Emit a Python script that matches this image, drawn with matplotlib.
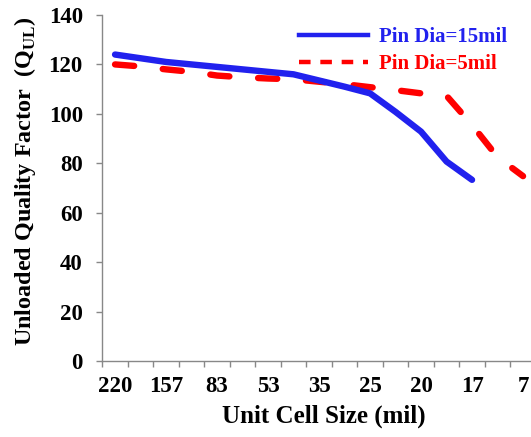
import matplotlib
matplotlib.use("Agg")
import matplotlib.pyplot as plt
from matplotlib.lines import Line2D

plt.rcParams['font.family'] = ['Liberation Serif', 'DejaVu Serif']
plt.rcParams['font.weight'] = 'bold'
plt.rcParams['mathtext.fontset'] = 'custom'
plt.rcParams['mathtext.bf'] = 'Liberation Serif:bold'
plt.rcParams['mathtext.rm'] = 'Liberation Serif:bold'

tick_labels = ["220", "157", "83", "53", "35", "25", "20", "17", "7"]
categories = list(range(17))
q_pin15 = [124, 122.5, 121, 120, 119, 118, 117, 116, 113.5, 111, 108.3, 100.8, 92.8, 80.7, 73.3]
q_pin5 = [120, 119.2, 118, 117, 115.5, 114.8, 114.3, 114, 113, 112, 110.8, 109.6, 108.3, 107.3, 95.5, 82.5, 74.8]

W, H = 531, 437
fig = plt.figure(figsize=(W / 100, H / 100), dpi=100)
left, right = 102.3 / W, 535.8 / W
bottom, top = (H - 361) / H, (H - 15) / H
ax = fig.add_axes([left, bottom, right - left, top - bottom])

blue = '#2121EE'
red = '#FF0000'
ax.plot(categories[:len(q_pin15)], q_pin15, color=blue, lw=4.6, solid_capstyle='round', solid_joinstyle='round', zorder=3)
ax.plot(categories[:len(q_pin5)], q_pin5, color=red, lw=4.6, dashes=(3.0, 4.5), dash_capstyle='round', zorder=2)

ax.set_xlim(-0.5, 16.5)
ax.set_ylim(0, 140)
ax.set_xticks([i - 0.5 for i in range(18)])
ax.set_xticklabels([])
ax.set_xticks(categories[::2], minor=True)
ax.set_xticklabels(tick_labels, minor=True, fontsize=16.5, fontweight='bold')
ax.tick_params(axis='x', which='minor', length=0, pad=11)
ax.tick_params(axis='x', which='major', length=4, color='#888888', width=1, direction='out')
ax.set_yticks(range(0, 141, 20))
ax.tick_params(axis='y', length=4, color='#888888', width=1, direction='out', labelsize=16.5, pad=10)
for lab in ax.get_yticklabels():
    lab.set_fontweight('bold')

for s in ['top', 'right']:
    ax.spines[s].set_visible(False)
for s in ['left', 'bottom']:
    ax.spines[s].set_color('#888888')
    ax.spines[s].set_linewidth(1)

fig.text(324 / W, 1 - 416 / H, 'Unit Cell Size (mil)', ha='center', va='center', fontsize=18, fontweight='bold')
fig.text(25 / W, 1 - 181 / H, r'Unloaded Quality Factor  (Q$_{\mathbf{UL}}$)', ha='center', va='center',
         rotation=90, fontsize=17.4, fontweight='bold')

handles = [Line2D([], [], color=blue, lw=3.2),
           Line2D([], [], color=red, lw=3.2, dashes=(2.6, 2.2))]
leg = fig.legend(handles, ['Pin Dia=15mil', 'Pin Dia=5mil'], loc='upper left',
                 bbox_to_anchor=(299 / W, 1 - 27 / H), frameon=False, fontsize=15,
                 handlelength=3.3, handletextpad=0.55, labelspacing=0.35, borderaxespad=0, borderpad=0)
for t, c in zip(leg.get_texts(), [blue, red]):
    t.set_color(c)
    t.set_fontweight('bold')

fig.savefig('out.png', dpi=100)
